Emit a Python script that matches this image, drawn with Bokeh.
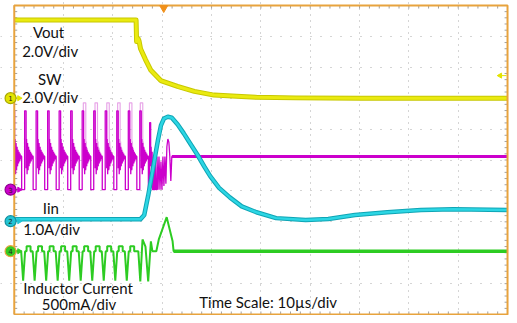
import numpy as np
from bokeh.plotting import figure
from bokeh.models import Range1d, Grid, FixedTicker, Label
from bokeh.embed import file_html
from bokeh.resources import INLINE

# ---------------- scope screen: time in us (10 us/div, 10 div), vertical in divisions (0..10)
T_DIVS = 10
Y_DIVS = 10
US_PER_DIV = 10.0

# ---------------- CH1 Vout (yellow)
vout_t = [0, 24.7, 24.8, 25.1, 25.3, 25.6, 26.6, 27.7, 29.7, 33.1, 36.5, 40.5, 45.1, 49.1, 57.0, 70.0, 100.0]
vout_y = [9.53, 9.53, 8.83, 8.93, 8.85, 8.6, 8.25, 7.9, 7.57, 7.38, 7.22, 7.10, 7.06, 7.03, 7.01, 7.00, 7.00]

# ---------------- CH3 SW (magenta): switching pulses, one cycle shape, then the shutdown burst
sw_pulse_t = [-0.83, 1.50, 3.83, 6.17, 8.50, 10.84, 13.17, 15.51, 17.84, 20.18, 22.52, 24.85]
sw_cycle_dt = [0, 0, 0.6, 0.6, 0.9, 0.9, 1.0, 1.1, 1.2, 1.3, 1.4, 1.5, 1.6, 1.7, 1.8, 1.9, 2.0, 2.1, 2.2]
sw_cycle_y = [5.11, 4.04, 4.04, 6.59, 6.59, 4.73, 5.68, 4.54, 5.55, 4.67, 5.43, 4.80, 5.33, 4.89, 5.27, 4.95, 5.21, 5.02, 5.14]
sw_tail_t = [27.19, 27.19, 27.45, 27.45, 27.65, 27.65, 27.75, 27.85, 27.95, 28.04, 28.24, 28.24, 28.34, 28.54,
             28.54, 28.74, 28.94, 28.94, 29.14, 29.34, 29.54, 29.74, 29.94, 30.14, 30.34, 30.54, 30.74, 30.94,
             31.14, 31.34, 31.54, 31.74, 31.94, 100]
sw_tail_y = [5.11, 4.04, 4.04, 6.21, 6.21, 4.80, 5.43, 4.67, 5.27, 4.04, 4.04, 5.11, 4.04, 4.04,
             5.17, 4.04, 4.04, 5.11, 4.04, 5.11, 4.04, 4.95, 4.04, 5.11, 4.16, 5.11, 4.23, 5.43,
             5.68, 5.58, 5.11, 4.32, 5.11, 5.11]
# persistence (lighter) pulses
swp_pulse_t = [14.0, 16.37, 18.76, 20.96, 23.35, 25.55]
swp_cycle_dt = [0, 0, 0.5, 0.5, 0.6, 0.7, 0.8, 0.9, 1.0]
swp_cycle_y = [5.11, 6.85, 6.85, 4.70, 5.60, 4.80, 5.40, 4.90, 5.11]

# ---------------- CH2 Iin (cyan)
iin_t = [0, 25.55, 26.35, 27.15, 28.14, 28.54, 29.14, 29.74, 30.34, 31.14, 31.94, 33.13, 34.33, 35.73, 37.13,
         38.52, 39.72, 41.52, 43.71, 46.11, 49.1, 53.09, 59.08, 63.67, 69.06, 75.65, 82.44, 89.02, 100]
iin_y = [3.08, 3.08, 3.22, 3.85, 4.73, 5.11, 5.65, 6.12, 6.34, 6.40, 6.37, 6.15, 5.87, 5.52, 5.17,
         4.79, 4.48, 4.10, 3.79, 3.50, 3.31, 3.12, 3.06, 3.09, 3.22, 3.31, 3.38, 3.41, 3.38]

# ---------------- CH4 Inductor current (green)
il_dip_t = [1.80, 4.13, 6.47, 8.80, 11.14, 13.47, 15.81, 18.14, 20.48, 22.81]
il_cycle_dt = [-0.4, 0, 0.4, 0.7, 0.7, 1.5, 1.5]
il_cycle_y = [2.05, 1.10, 2.05, 2.05, 2.21, 2.21, 2.05]
il_tail_t = [25.15, 25.55, 26.0, 26.6, 27.15, 27.7, 28.0, 28.8, 29.3, 29.5, 30.9, 32.1, 32.3, 100]
il_tail_y = [2.05, 1.07, 2.43, 2.2, 1.07, 2.37, 2.05, 2.05, 2.43, 2.52, 3.15, 2.37, 2.05, 2.05]

# ---------------- channel reference markers
ch_names = ["1", "3", "2", "4"]
ch_levels = [7.0, 4.04, 3.02, 2.05]
ch_fill = ["#E3E300", "#CC00CC", "#22C4D4", "#33CC22"]
ch_line = ["#A8A800", "#900090", "#1090A0", "#E8A33D"]
trig_t = 30.3
trig_level = 7.73

# ---------------- labels
labels = [("Vout", 3.79, 9.15), ("2.0V/div", 1.6, 8.52), ("SW", 4.79, 7.63), ("2.0V/div", 1.6, 7.03),
          ("Iin", 5.79, 3.44), ("1.0A/div", 1.8, 2.78), ("Inductor Current", 1.8, 0.87),
          ("500mA/div", 5.59, 0.33), ("Time Scale: 10\u00b5s/div", 37.5, 0.42)]


def build(starts, dts, ys, tail_t, tail_y):
    xs, yv = [], []
    for s in starts:
        xs += [s + d for d in dts]
        yv += list(ys)
    xs += list(tail_t)
    yv += list(tail_y)
    xs = np.array(xs)
    yv = np.array(yv)
    m = xs >= 0
    return xs[m], yv[m]


T_MAX = T_DIVS * US_PER_DIV
p = figure(width=509, height=315, x_range=Range1d(-2.79, 100.4), y_range=Range1d(-0.03, 10.16),
           output_backend="svg", toolbar_location=None, x_axis_location=None, y_axis_location=None,
           min_border=0, outline_line_color=None, background_fill_color="white",
           border_fill_color="white")
p.grid.visible = False

grid_col = "#ABABAB"
p.add_layout(Grid(dimension=0, ticker=FixedTicker(ticks=list(np.arange(1, T_DIVS) * US_PER_DIV)),
                  grid_line_color=grid_col, grid_line_dash="1 5", grid_line_width=1))
p.add_layout(Grid(dimension=1, ticker=FixedTicker(ticks=list(np.arange(1, Y_DIVS))),
                  grid_line_color=grid_col, grid_line_dash="1 9", grid_line_width=1))

# border minor ticks
tick_col = "#A0A0A0"
mt = np.arange(0, T_MAX + 0.01, US_PER_DIV / 5)
my = np.arange(0, Y_DIVS + 0.01, 0.2)
p.segment(x0=mt, y0=np.full(len(mt), Y_DIVS), x1=mt, y1=np.full(len(mt), Y_DIVS - 0.1), line_color=tick_col)
p.segment(x0=mt, y0=np.zeros(len(mt)), x1=mt, y1=np.full(len(mt), 0.1), line_color=tick_col)
p.segment(x0=np.zeros(len(my)), y0=my, x1=np.full(len(my), 0.6), y1=my, line_color=tick_col)
p.segment(x0=np.full(len(my), T_MAX), y0=my, x1=np.full(len(my), T_MAX - 0.6), y1=my, line_color=tick_col)

# traces
x, y = build(swp_pulse_t, swp_cycle_dt, swp_cycle_y, [], [])
for i in range(len(swp_pulse_t)):
    n = len(swp_cycle_dt)
    p.line(x[i * n:(i + 1) * n], y[i * n:(i + 1) * n], line_color="#E8A6E8", line_width=1.2)
x, y = build(sw_pulse_t, sw_cycle_dt, sw_cycle_y, sw_tail_t, sw_tail_y)
p.line(x, y, line_color="#CC00CC", line_width=1.3)
p.line([sw_tail_t[-2], sw_tail_t[-1]], [sw_tail_y[-2], sw_tail_y[-1]], line_color="#CC00CC", line_width=3)

p.line(iin_t, iin_y, line_color="#0FA5B5", line_width=4.5, line_join="round")
p.line(iin_t, iin_y, line_color="#2CD6E4", line_width=2.5, line_join="round")

p.line(vout_t, vout_y, line_color="#C8C800", line_width=5, line_join="round")
p.line(vout_t, vout_y, line_color="#EAEA10", line_width=3, line_join="round")

x, y = build(il_dip_t, il_cycle_dt, il_cycle_y, il_tail_t, il_tail_y)
x = np.concatenate([[0.0], x])
y = np.concatenate([[il_cycle_y[0]], y])
p.line(x, y, line_color="#2DCC22", line_width=2)
p.line([il_tail_t[-2], il_tail_t[-1]], [il_tail_y[-2], il_tail_y[-1]], line_color="#2DCC22", line_width=3.5)

# frame border
p.line([0, T_MAX, T_MAX, 0, 0], [0, 0, Y_DIVS, Y_DIVS, 0], line_color="#E8A33D", line_width=2)

# channel markers
mx = -0.75
for name, lev, fc, lc in zip(ch_names, ch_levels, ch_fill, ch_line):
    p.segment(x0=[mx], y0=[lev], x1=[0.9], y1=[lev], line_color=fc, line_width=1.2)
    p.scatter([1.0], [lev], marker="triangle", angle=-np.pi / 2, size=5, fill_color=fc, line_color=fc)
    p.scatter([mx], [lev], marker="circle", size=11, fill_color=fc, line_color=lc, line_width=1.2)
    p.add_layout(Label(x=mx, y=lev, text=name, text_font="DejaVu Sans", text_font_size="7px",
                       text_align="center", text_baseline="middle", text_color="#222222"))

# trigger markers
p.scatter([trig_t], [Y_DIVS - 0.08], marker="inverted_triangle", size=8, fill_color="#F0901A", line_color="#F0901A")
p.segment(x0=[98.3], y0=[trig_level], x1=[99.8], y1=[trig_level], line_color="#E3E300", line_width=1)
p.scatter([98.5], [trig_level], marker="triangle", angle=np.pi / 2, size=5, fill_color="#E3E300", line_color="#E3E300")

for txt, tx, ty in labels:
    p.add_layout(Label(x=tx, y=ty, text=txt, text_font="Lato", text_font_size="15px",
                       text_baseline="middle", text_color="#111111"))

open("out.html", "w").write(file_html(p, INLINE))
